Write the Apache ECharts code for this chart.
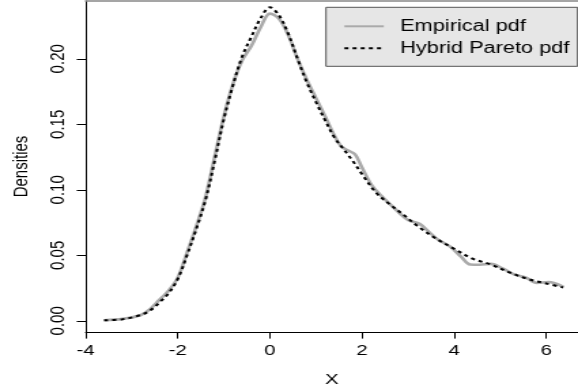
<!DOCTYPE html>
<html>
<head>
<meta charset="utf-8">
<script src="https://cdn.jsdelivr.net/npm/echarts@6/dist/echarts.min.js"></script>
<style>
  html, body { margin: 0; padding: 0; background: #fff; overflow: hidden; }
  /* the reference image is an R plot stretched sideways, so draw narrow and scale */
  #chart { width: 425px; height: 392px; transform: scaleX(1.36); transform-origin: 0 0; }
</style>
</head>
<body>
<div id="chart"></div>
<script>
// kernel density of the sample (grey curve)
const empX = [-3.6, -3.2, -2.8, -2.6, -2.4, -2.2, -2.0, -1.8, -1.6, -1.4, -1.2, -1.0, -0.8, -0.6, -0.4, -0.2,
  0.0, 0.2, 0.4, 0.6, 0.8, 1.0, 1.2, 1.4, 1.55, 1.7, 1.85, 2.0, 2.2, 2.4, 2.7, 3.0, 3.25, 3.45, 3.65, 3.9,
  4.15, 4.35, 4.55, 4.8, 5.05, 5.3, 5.55, 5.8, 6.05, 6.2, 6.37];
const empY = [0.0005, 0.0015, 0.0045, 0.009, 0.016, 0.023, 0.033, 0.052, 0.072, 0.094, 0.125, 0.156, 0.181, 0.199, 0.210, 0.224,
  0.2345, 0.2305, 0.218, 0.200, 0.184, 0.170, 0.156, 0.1415, 0.133, 0.130, 0.127, 0.117, 0.104, 0.096, 0.086, 0.077, 0.074, 0.068, 0.062, 0.057,
  0.049, 0.043, 0.0428, 0.0435, 0.040, 0.0355, 0.0332, 0.029, 0.0297, 0.0285, 0.026];

// fitted hybrid Pareto density (black dotted)
const hybX = [-3.6, -3.2, -2.8, -2.6, -2.4, -2.2, -2.0, -1.8, -1.6, -1.4, -1.2, -1.0, -0.8, -0.6, -0.4, -0.2,
  0.0, 0.2, 0.4, 0.6, 0.8, 1.0, 1.2, 1.4, 1.6, 1.8, 2.0, 2.3, 2.6, 2.9, 3.2, 3.6, 4.0, 4.4, 4.8, 5.2, 5.6, 6.0, 6.37];
const hybY = [0.0004, 0.0013, 0.0045, 0.008, 0.014, 0.021, 0.032, 0.050, 0.070, 0.092, 0.122, 0.154, 0.180, 0.202, 0.217, 0.231,
  0.2393, 0.2330, 0.219, 0.200, 0.182, 0.167, 0.153, 0.140, 0.131, 0.122, 0.112, 0.098, 0.089, 0.081, 0.0725, 0.063, 0.055, 0.0475, 0.043, 0.037, 0.032, 0.0285, 0.0255];

const xTicks = [-4, -2, 0, 2, 4, 6];
const yTicks = [0, 0.05, 0.10, 0.15, 0.20];

const FONT = '"Liberation Sans", Arial, sans-serif';
const zip = (xs, ys) => xs.map((x, i) => [x, ys[i]]);

const chart = echarts.init(document.getElementById('chart'), null, { renderer: 'canvas' });
chart.setOption({
  animation: false,
  textStyle: { fontFamily: FONT },
  grid: { left: 61.25, right: 0, top: 1, bottom: 57 },
  legend: {
    orient: 'vertical', left: 239.7, top: 7.3,
    itemWidth: 29, itemHeight: 14, itemGap: 6,
    padding: [11, 6, 10, 12.5],
    backgroundColor: '#e6e6e6', borderColor: '#555', borderWidth: 1, borderRadius: 0,
    itemStyle: { opacity: 0 },
    textStyle: { color: '#000', fontSize: 16, fontFamily: FONT, padding: [0, 0, 0, 7] },
    data: ['Empirical pdf', 'Hybrid Pareto pdf'],
  },
  xAxis: [{
    type: 'value', min: -4, max: 6.69,
    name: 'X', nameLocation: 'middle', nameGap: 40,
    nameTextStyle: { color: '#000', fontSize: 15, fontFamily: FONT },
    axisLine: { onZero: false, lineStyle: { color: '#000', width: 1 } },
    axisTick: { length: 6.6, lineStyle: { color: '#000' }, customValues: xTicks },
    axisLabel: { color: '#000', fontSize: 15, margin: 11, customValues: xTicks, formatter: (v) => String(v) },
    splitLine: { show: false },
  }, {
    type: 'value', position: 'top', min: -4, max: 6.69,
    axisLine: { onZero: false, lineStyle: { color: '#888', width: 1.5 } },
    axisTick: { show: false }, axisLabel: { show: false }, splitLine: { show: false },
  }],
  yAxis: {
    type: 'value', min: -0.0085, max: 0.2441,
    name: 'Densities', nameLocation: 'middle', nameGap: 40, nameRotate: 90,
    nameTextStyle: { color: '#000', fontSize: 15, fontFamily: FONT },
    axisLine: { onZero: false, lineStyle: { color: '#000', width: 1 } },
    axisTick: { length: 6.6, lineStyle: { color: '#000' }, customValues: yTicks },
    axisLabel: { color: '#000', fontSize: 15, margin: 13, rotate: 90, customValues: yTicks, formatter: (v) => v.toFixed(2) },
    splitLine: { show: false },
  },
  series: [
    {
      name: 'Empirical pdf', type: 'line', data: zip(empX, empY), smooth: 0.35,
      symbol: 'none', lineStyle: { color: '#aaaaaa', width: 2.6 }, itemStyle: { color: '#aaaaaa' }, z: 2,
    },
    {
      name: 'Hybrid Pareto pdf', type: 'line', data: zip(hybX, hybY), smooth: 0.35,
      symbol: 'none', lineStyle: { color: '#000', width: 2, type: [3, 3] }, itemStyle: { color: '#000' }, z: 3,
    },
  ],
});
</script>
</body>
</html>
